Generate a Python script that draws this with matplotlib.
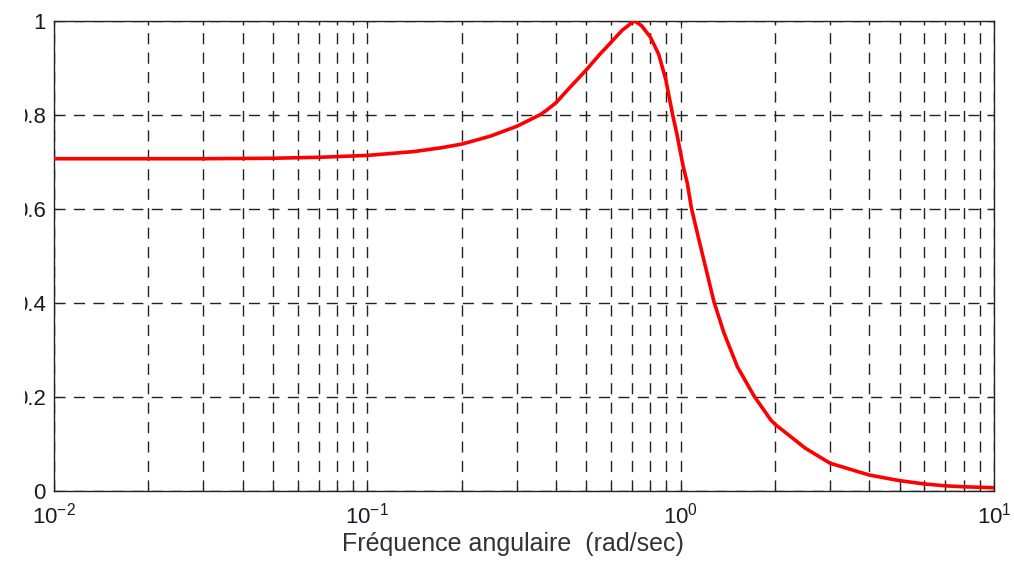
import matplotlib
matplotlib.use("Agg")
import matplotlib.pyplot as plt
from matplotlib.patches import Rectangle
from matplotlib.ticker import LogLocator, NullFormatter

plt.rcParams['font.family'] = ['Liberation Sans', 'DejaVu Sans']
plt.rcParams['mathtext.fontset'] = 'custom'
plt.rcParams['mathtext.rm'] = 'Liberation Sans'
plt.rcParams['mathtext.it'] = 'Liberation Sans'

# Data
freq = [0.01, 0.02, 0.03, 0.05, 0.07, 0.1, 0.14, 0.171, 0.2, 0.247, 0.3, 0.324, 0.357, 0.373,
        0.4, 0.445, 0.5, 0.55, 0.6, 0.65, 0.7, 0.714, 0.75, 0.8, 0.85, 0.896, 0.916, 0.943,
        0.971, 0.995, 1.02, 1.05, 1.082, 1.13, 1.2, 1.278, 1.375, 1.518, 1.715, 1.94,
        2.0, 2.5, 3.0, 4.0, 5.0, 6.0, 7.0, 8.0, 10.0]
mag = [0.707, 0.707, 0.707, 0.708, 0.710, 0.714, 0.722, 0.730, 0.738, 0.755, 0.776, 0.787, 0.801, 0.810,
       0.826, 0.860, 0.896, 0.928, 0.955, 0.980, 0.997, 1.0, 0.990, 0.966, 0.930, 0.876, 0.843, 0.800,
       0.762, 0.7255, 0.689, 0.655, 0.602, 0.549, 0.477, 0.402, 0.336, 0.264, 0.202, 0.151,
       0.142, 0.091, 0.059, 0.034, 0.022, 0.015, 0.011, 0.009, 0.007]

yticks = [0, 0.2, 0.4, 0.6, 0.8, 1]
yticklabels = ['0', '0.2', '0.4', '0.6', '0.8', '1']
xlabel = 'Fréquence angulaire  (rad/sec)'

fig = plt.figure(figsize=(10.14, 5.63), dpi=100)
ax = fig.add_axes([54/1014, 1-491/563, 940/1014, 470/563])

ax.plot(freq, mag, color='#ff0000', lw=2.6, zorder=3,
        solid_joinstyle='round', solid_capstyle='round')
ax.set_xscale('log')
ax.set_xlim(0.01, 10)
ax.set_ylim(0, 1)
ax.set_yticks(yticks)
ax.set_yticklabels(yticklabels)
ax.xaxis.set_minor_locator(LogLocator(base=10, subs=range(2, 10), numticks=20))
ax.xaxis.set_minor_formatter(NullFormatter())

ax.grid(True, which='both', axis='x', color='#222222', lw=1.0, linestyle=(0, (8, 6)))
ax.grid(True, which='major', axis='y', color='#222222', lw=1.0, linestyle=(0, (8, 6)))
ax.set_axisbelow(True)

ax.tick_params(which='both', direction='in', top=True, right=True, colors='#222222')
ax.tick_params(which='major', length=5, width=0.8, labelsize=16)
ax.tick_params(axis='y', which='major', pad=6)
ax.tick_params(axis='x', which='major', pad=8)
ax.tick_params(which='minor', length=3, width=0.8)
for lab in ax.get_xticklabels() + ax.get_yticklabels():
    lab.set_color('#1a1a2a')
for s in ax.spines.values():
    s.set_color('#222222')
    s.set_linewidth(1.0)

ax.set_xlabel(xlabel, fontsize=18, color='#333333')
ax.xaxis.set_label_coords(0.488, -0.088)

# left edge of the reference image is cropped
fig.patches.append(Rectangle((0, 0), 25/1014, 1, transform=fig.transFigure,
                             facecolor='white', edgecolor='none', zorder=10))

fig.savefig('out.png', dpi=100)
